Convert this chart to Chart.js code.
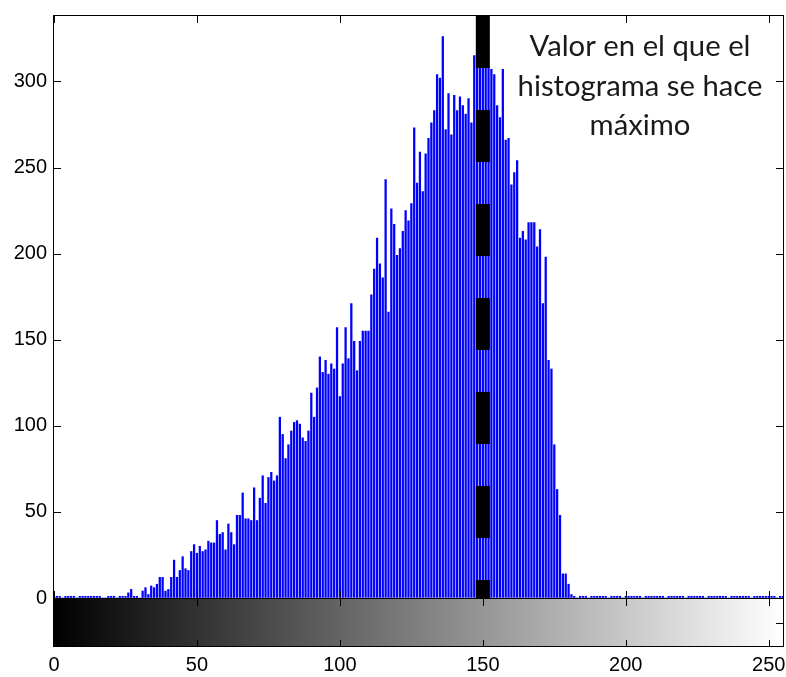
<!DOCTYPE html>
<html><head><meta charset="utf-8">
<script src="https://cdn.jsdelivr.net/npm/chart.js@4"></script>
<style>html,body{margin:0;padding:0;background:#fff}#wrap{width:786px;height:677px;position:relative}</style>
</head><body><div id="wrap"><canvas id="c"></canvas></div>
<script>
// Histogram counts per gray level
const counts0_63 = [1,1,1,0,1,1,1,1,0,1,1,1,1,1,1,1,1,0,0,1,1,1,0,1,1,
  1,3,5,1,1,0,4,6,2,7,6,8,12,12,4,5,12,22,12,16,24,17,16,27,31,26,30,27,28,33,32,32,45,37,38,28,43,38,31];
const counts64_127 = [48,48,61,46,46,45,64,45,58,71,
  55,70,73,68,71,105,95,81,89,97,
  102,103,101,93,91,97,119,105,122,140,
  131,138,130,136,133,157,117,136,157,139,
  171,149,132,149,155,155,155,176,191,209,
  194,186,243,166,226,217,199,203,213,225,
  219,229,273,241];
const counts128_191 = [259,236,258,267,276,283,304,302,326,272,
  293,269,292,283,291,286,281,290,276,315,
  322,318,335,312,309,307,304,286,279,307,
  266,267,240,247,254,209,213,208,218,218,
  218,204,214,171,198,138,133,89,63,48,
  14,14,8,2,1,0,1,1,1,0,
  1,1,1,1];
const counts192_255 = [1,1,0,1,1,1,1,0,1,1,1,1,1,1,0,1,1,1,1,1,1,1,0,1,1,1,1,1,1,0,1,1,
  1,1,1,1,0,1,1,1,1,1,1,1,0,1,1,1,1,1,1,1,0,1,1,1,1,1,1,1,1,0,1,1];
const xTicks = [0, 50, 100, 150, 200, 250];
const yTicks = [0, 50, 100, 150, 200, 250, 300];
const xRange = [0, 255];
const yMax = 338;
const peakLevel = 150;
const annotationLines = ["Valor en el que el", "histograma se hace", "máximo"];

const counts = [].concat(counts0_63, counts64_127, counts128_191, counts192_255);
const histData = counts.map((c, i) => ({ x: i, y: c }));
const peakData = [{ x: peakLevel, y: yMax }, { x: peakLevel, y: 0 }];

const AX_FONT = '"Liberation Sans Narrow","Liberation Sans",Arial,sans-serif';

const frame = {
  id: 'frame',
  afterDraw(chart) {
    const { ctx, chartArea: a, scales: { x, y } } = chart;
    const L = Math.round(a.left), R = Math.round(a.right), T = Math.round(a.top), B = Math.round(a.bottom);
    const cbBot = 647;
    const tl = 7;
    ctx.save();
    // colorbar
    const gx0 = x.getPixelForValue(xRange[0]), gx1 = x.getPixelForValue(xRange[1]);
    const g = ctx.createLinearGradient(gx0, 0, gx1, 0);
    g.addColorStop(0, '#000'); g.addColorStop(1, '#fff');
    ctx.fillStyle = g;
    ctx.fillRect(L, B, R - L, cbBot - B);
    ctx.strokeStyle = '#000';
    ctx.lineWidth = 1;
    ctx.strokeRect(L - 0.5, T - 0.5, R - L + 1, B - T + 1);
    ctx.strokeRect(L - 0.5, B + 0.5, R - L + 1, cbBot - B - 1);
    ctx.beginPath();
    xTicks.forEach(v => {
      const px = Math.round(x.getPixelForValue(v)) + 0.5;
      ctx.moveTo(px, B); ctx.lineTo(px, B - tl);
      ctx.moveTo(px, T); ctx.lineTo(px, T + tl);
      ctx.moveTo(px, B + 1); ctx.lineTo(px, B + 1 + tl);
      ctx.moveTo(px, cbBot); ctx.lineTo(px, cbBot - tl);
    });
    yTicks.forEach(v => {
      const py = Math.round(y.getPixelForValue(v)) + 0.5;
      ctx.moveTo(L, py); ctx.lineTo(L + tl, py);
      ctx.moveTo(R, py); ctx.lineTo(R - tl, py);
    });
    const cbMid = Math.round((B + cbBot) / 2) + 0.5;
    ctx.moveTo(R, cbMid); ctx.lineTo(R - tl, cbMid);
    ctx.stroke();
    // annotation text
    ctx.fillStyle = '#1a1a1a';
    ctx.textAlign = 'center';
    ctx.textBaseline = 'alphabetic';
    let size = 25;
    ctx.font = size + 'px Lato, "Open Sans", sans-serif';
    const w = ctx.measureText(annotationLines[1]).width;
    size = size * 245 / w;
    ctx.font = size.toFixed(2) + 'px Lato, "Open Sans", sans-serif';
    const baselines = [56, 96, 135];
    annotationLines.forEach((t, i) => ctx.fillText(t, 640, baselines[i]));
    ctx.restore();
  }
};

new Chart(document.getElementById('c'), {
  type: 'bar',
  data: {
    datasets: [
      {
        type: 'line', data: peakData, borderColor: '#000', borderWidth: 14,
        borderDash: [52, 42], pointRadius: 0, fill: false, order: 0, borderCapStyle: 'butt'
      },
      {
        type: 'bar', data: histData, backgroundColor: 'rgb(0,0,255)', borderWidth: 0,
        barThickness: 1.6, grouped: false, order: 1
      }
    ]
  },
  options: {
    responsive: true, maintainAspectRatio: false, animation: false, devicePixelRatio: 1,
    layout: { padding: { top: 16, right: 3, left: 0, bottom: 0 } },
    plugins: { legend: { display: false }, tooltip: { enabled: false } },
    scales: {
      x: {
        type: 'linear', min: xRange[0], max: xRange[1], offset: false,
        grid: { display: false, offset: false, drawTicks: false }, border: { display: false },
        afterBuildTicks: s => { s.ticks = xTicks.map(v => ({ value: v })); },
        ticks: { padding: 0, autoSkip: false, maxRotation: 0, color: '#000',
                 font: { family: AX_FONT, size: 20, lineHeight: '134px' } },
        afterFit: s => { s.height = 79; }
      },
      y: {
        type: 'linear', min: 0, max: yMax,
        grid: { display: true, drawOnChartArea: false, drawTicks: true, tickLength: 7, color: 'rgba(0,0,0,0)' },
        border: { display: false },
        afterBuildTicks: s => { s.ticks = yTicks.map(v => ({ value: v })); },
        ticks: { padding: 0, color: '#000', font: { family: AX_FONT, size: 20 } },
        afterFit: s => { s.width = 54; }
      }
    }
  },
  plugins: [frame]
});
</script>
</body></html>
